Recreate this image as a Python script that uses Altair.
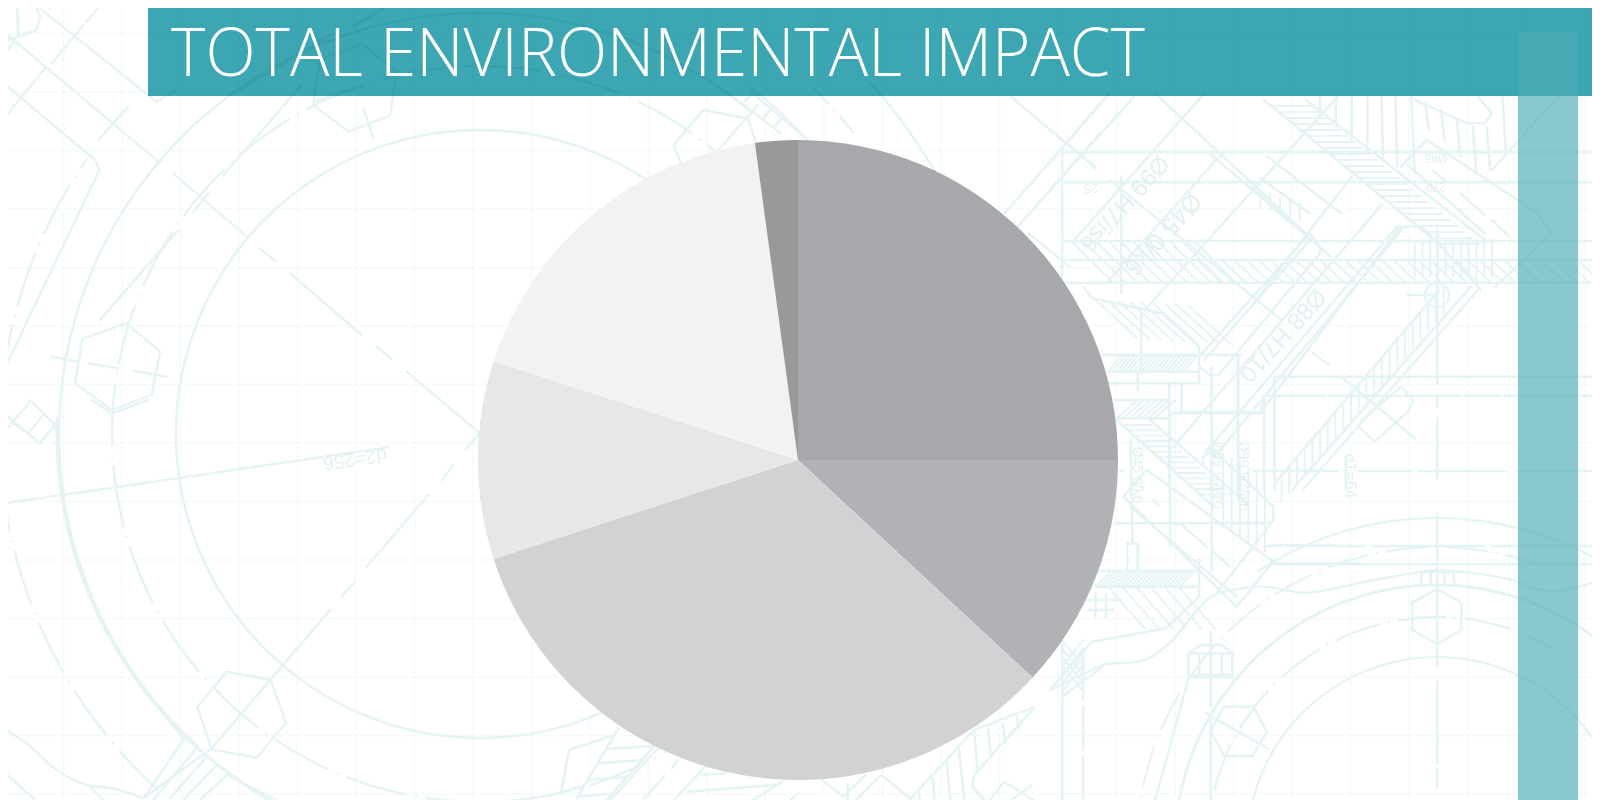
import math
import altair as alt
import pandas as pd

# ---- chart values -------------------------------------------------------
SLICE_VALUES = [25, 11.9, 33.1, 10, 17.85, 2.15]
SLICE_COLORS = ["#A7A8AB", "#B1B2B5", "#D1D2D4", "#E6E7E8", "#F2F2F2", "#999999"]
TITLE_TEXT = "TOTAL ENVIRONMENTAL IMPACT"

# ---- blueprint backdrop: page pixels, or crop pixels with a (ox, oy, sx, sy) origin --------
GRID_X = [5, 63.5, 122, 180.5, 239, 297.5, 356, 414.5, 473, 531.5, 590, 648.5, 707, 765.5, 824, 882.5, 941, 999.5,
          1058, 1116.5, 1175, 1233.5, 1292, 1350.5, 1409, 1467.5, 1526, 1584.5]
GRID_Y = [33.5, 92, 150.5, 209, 267.5, 326, 384.5, 443, 501.5, 560, 618.5, 677, 735.5, 794]
LINE = "#E5F3F4"

# centre x, centre y, radius, stroke, theta from, theta to (degrees), dash, gap (px; 0 = solid)
RINGS = [
    (480, 434, 304, 2.6, 0, 360, 0, 0),
    (480, 434, 368, 2.4, 0, 360, 62, 9),
    (480, 434, 421, 2.6, 222, 400, 0, 0),
    (482, 432, 425, 3.4, 205, 272, 0, 0),
    (480, 434, 440, 2.4, 38, 52, 0, 0),
    (480, 434, 480, 2.4, 222, 305, 56, 9),
    (480, 434, 480, 2.4, 44, 52, 22, 7),
    (480, 434, 525, 2.4, 48, 62, 0, 0),
    (1437, 847, 190, 2.2, -90, 90, 0, 0),
    (1437, 847, 230, 2.4, -92, 30, 48, 8),
    (1437, 847, 262, 3.0, -92, 90, 0, 0),
    (1437, 847, 275, 2.2, -3, 3, 0, 0),
    (1437, 847, 300, 2.2, -90, 25, 42, 8),
    (1437, 847, 329, 2.2, -33, 33, 0, 0),
    (1437, 295, 12, 2.2, 0, 360, 0, 0),
]

Z2 = (0, 0, 3, 3)
Z3 = (0, 400, 3, 3)
Z4 = (1050, 90, 2.851, 3)
Z5 = (1050, 440, 2.851, 3)
Z6 = (480, 650, 2.529, 3)
Z7 = (560, 90, 2.904, 3)
Z8 = (1080, 300, 3, 3)

LEFT_LINES = [(Z2, [
    [(120, 25), (450, 290), (470, 305), (530, 270)], [(0, 85), (475, 485)],
    [(0, 240), (285, 480), (298, 510), (0, 1135)], [(520, 520), (740, 710)],
    [(385, 320), (295, 420)], [(905, 255), (670, 525)], [(535, 690), (300, 960)], [(625, 580), (580, 635)],
    [(940, 315), (1045, 395), (1170, 347), (1190, 215), (1085, 130), (960, 180), (940, 315)],
    [(380, 970), (480, 1055), (455, 1185), (335, 1230), (225, 1150), (248, 1015), (380, 970)],
    [(0, 130), (110, 90), (120, 50), (100, 0)], [(50, 0), (55, 105)], [(0, 60), (0, 110), (45, 120), (0, 180)],
    [(120, 0), (150, 25), (190, 0)],
    [(305, 10), (260, 65)], [(250, 75), (155, 190)], [(135, 205), (0, 370)],
    [(780, 745), (825, 783)], [(870, 820), (1085, 1005)], [(1130, 1040), (1175, 1078)], [(1220, 1115), (1440, 1300)],
    [(155, 1070), (235, 1085)], [(265, 1090), (355, 1105)], [(400, 1112), (500, 1130)],
    [(1090, 325), (1120, 415)], [(945, 305), (1040, 270)], [(1060, 80), (1190, 0)], [(720, 270), (1000, 100)],
]), (Z3, [
    [(15, 310), (1165, 142)],
    [(0, 30), (120, 130), (165, 75), (90, 0)], [(0, 110), (90, 5)], [(40, 70), (85, 100), (130, 45)],
    [(275, 0), (335, 40), (445, 0)],
    [(1435, 105), (1395, 150)], [(1360, 195), (1325, 240)], [(1285, 285), (1100, 500)], [(1065, 545), (1025, 590)],
    [(990, 630), (635, 1045), (430, 1195)],
    [(680, 815), (812, 840), (858, 968), (770, 1073), (635, 1048), (592, 920), (680, 815)],
    [(0, 1105), (105, 1200)], [(265, 1155), (310, 1200)],
    [(550, 1020), (430, 1195)], [(480, 930), (555, 1020)], [(590, 1045), (460, 1200)], [(620, 1070), (510, 1195)],
    [(650, 1095), (550, 1200)], [(680, 1125), (600, 1200)], [(680, 1125), (830, 1200)],
]), (Z7, [
    [(330, 165), (415, 60), (545, 85), (570, 160)], [(330, 165), (350, 215)], [(460, 180), (575, 45)],
    [(620, 110), (650, 80)], [(590, 85), (620, 50)], [(530, 40), (560, 10)], [(490, 10), (640, 130)], [(560, 10), (720, 150)],
])]

RIGHT_LINES = [(Z7, [
    [(1310, 20), (1470, 160)], [(1470, 160), (1568, 40)], [(1330, 410), (1568, 130)], [(1290, 370), (1470, 160)],
    [(1510, 195), (1555, 235)], [(1360, 430), (1480, 530)],
]), (Z4, [
    [(35, 187), (1568, 187)], [(35, 277), (1568, 277)], [(35, 453), (1568, 453)], [(35, 510), (1568, 510)],
    [(35, 578), (1568, 578)], [(35, 187), (35, 578)], [(203, 260), (203, 610)],
    [(0, 215), (170, 10)], [(0, 300), (240, 20)], [(70, 450), (440, 10)], [(160, 580), (490, 190)], [(270, 660), (820, 20)],
    [(360, 1060), (945, 345)], [(440, 1090), (990, 410)], [(470, 1100), (1010, 410)],
    [(425, 800), (740, 430), (770, 470), (770, 490), (480, 855), (455, 855), (425, 830)], [(440, 810), (745, 445)],
    [(570, 290), (730, 430)], [(600, 265), (740, 370)], [(580, 640), (860, 260)], [(620, 200), (830, 370)],
    [(605, 960), (1000, 410)], [(640, 1180), (1110, 600)], [(690, 1200), (1200, 590)], [(720, 1200), (1220, 600)],
    [(750, 790), (795, 825)], [(830, 860), (1040, 1045)],
    [(890, 990), (1000, 890), (1035, 930), (1020, 965), (925, 1055), (880, 1010), (890, 990)],
    [(300, 10), (730, 430)], [(0, 120), (130, 230)], [(170, 270), (660, 690)], [(460, 195), (800, 500)],
    [(730, 30), (1240, 450)], [(610, 30), (1130, 480)],
    [(1040, 30), (1190, 100), (1240, 100), (1260, 70), (1220, 20)],
    [(770, 20), (770, 78)], [(815, 20), (815, 115)], [(860, 20), (860, 150)], [(905, 20), (905, 190)],
    [(945, 20), (950, 210)], [(985, 20), (990, 230)], [(1030, 20), (1040, 250)], [(1070, 40), (1080, 120)],
    [(1115, 60), (1125, 150)], [(1160, 90), (1170, 200)], [(1205, 110), (1215, 240)], [(1245, 110), (1255, 240)],
    [(1290, 20), (1300, 190)],
    [(1075, 150), (1390, 370), (1430, 430), (1270, 590)], [(1000, 230), (1075, 150)], [(1020, 225), (1240, 430)],
    [(1090, 240), (1130, 275)], [(1170, 310), (1240, 375)], [(1260, 390), (1310, 440)], [(1260, 240), (1450, 20)],
    [(990, 410), (1060, 410), (1230, 600)], [(1020, 615), (1100, 615)],
    [(95, 590), (120, 625), (320, 670), (425, 770), (425, 880)],
    [(150, 795), (545, 795)], [(165, 845), (425, 845)], [(160, 880), (420, 880)], [(250, 850), (250, 900)],
    [(185, 930), (340, 930)], [(185, 985), (340, 985)], [(340, 880), (340, 1200)],
    [(460, 830), (460, 1200)], [(535, 800), (535, 1200)], [(640, 860), (640, 1200)], [(610, 920), (610, 1200)],
    [(1563, 860), (1563, 1200)], [(260, 670), (260, 850)], [(1104, 420), (1104, 880)], [(1104, 920), (1104, 950)],
    [(1104, 985), (1104, 1165)], [(843, 1100), (843, 1200)], [(640, 860), (1568, 860)],
    [(375, 965), (600, 965), (610, 920)], [(375, 880), (375, 965)],
    [(610, 917), (785, 917)], [(795, 917), (1000, 917)], [(1010, 917), (1170, 917)], [(1180, 917), (1285, 917)],
    [(1295, 917), (1568, 917)], [(200, 1143), (210, 1143)], [(580, 1143), (820, 1143)], [(880, 1143), (1030, 1143)],
    [(1050, 1143), (1300, 1143)], [(1330, 1143), (1568, 1143)],
]), (Z8, [
    [(110, 360), (390, 610)], [(210, 360), (500, 610)],
    [(370, 470), (400, 450), (580, 620), (580, 660), (410, 880)], [(370, 470), (370, 500)],
    [(270, 340), (550, 340), (550, 290)], [(270, 340), (270, 740)], [(305, 250), (305, 340)],
    [(395, 220), (395, 810)], [(475, 165), (475, 600)],
    [(130, 590), (200, 510), (580, 785), (470, 920), (130, 590)], [(150, 620), (470, 890)],
    [(220, 600), (235, 615)], [(300, 670), (380, 740)], [(400, 755), (450, 800)],
    [(585, 790), (840, 790)], [(585, 735), (770, 735)],
]), (Z5, [
    [(1104, 447), (1173, 488), (1173, 570), (1104, 612), (1033, 570), (1033, 488), (1104, 447)],
    [(495, 800), (580, 800), (618, 875), (578, 948), (497, 948), (458, 875), (495, 800)],
    [(445, 820), (620, 925)], [(1104, 222), (1104, 680)], [(1104, 725), (1104, 970)], [(1104, 985), (1104, 1045)],
    [(458, 575), (458, 800)], [(458, 835), (458, 1080)],
    [(395, 640), (520, 640), (520, 705), (395, 705), (395, 640)], [(395, 640), (430, 615), (490, 615), (520, 640)],
    [(425, 640), (425, 705)], [(490, 640), (490, 705)], [(395, 712), (520, 712)], [(395, 715), (300, 1080)],
    [(640, 373), (1563, 373)], [(610, 318), (660, 318)], [(675, 318), (900, 318)], [(920, 318), (1240, 318)],
    [(1260, 318), (1568, 318)], [(1563, 0), (1563, 373)],
    [(1060, 395), (1058, 430)], [(1085, 395), (1085, 430)], [(1125, 395), (1125, 430)], [(1150, 395), (1153, 430)],
    [(35, 600), (35, 1080)], [(95, 640), (95, 780)], [(95, 800), (95, 930)], [(95, 950), (95, 1080)],
    [(130, 393), (425, 393)], [(130, 440), (425, 440)], [(120, 605), (330, 565), (425, 470), (425, 360)],
    [(0, 750), (120, 605)], [(35, 770), (150, 680)], [(130, 460), (130, 530)], [(160, 460), (160, 530)],
    [(100, 480), (200, 480)], [(110, 510), (180, 510)], [(220, 310), (250, 310), (250, 390)], [(220, 310), (220, 390)],
    [(230, 0), (235, 310)], [(185, 250), (630, 250)],
]), (Z6, [
    [(225, 300), (205, 430), (265, 405)], [(225, 300), (340, 255)], [(350, 235), (245, 445)],
    [(450, 295), (330, 450)], [(440, 290), (320, 450)],
    [(320, 297), (435, 288)], [(300, 340), (412, 330)], [(275, 390), (375, 380)], [(250, 440), (345, 430)],
    [(570, 350), (490, 450)], [(525, 425), (745, 405)], [(560, 375), (620, 370)], [(765, 395), (690, 450)],
    [(500, 330), (485, 355)], [(465, 380), (415, 445)], [(805, 430), (785, 450)],
    [(865, 390), (920, 440)], [(975, 375), (920, 440)], [(1015, 375), (950, 450)], [(1015, 375), (1090, 448)],
    [(930, 405), (930, 450)], [(1245, 245), (1090, 445)], [(1400, 175), (1250, 375), (1245, 410), (1275, 450)],
    [(1245, 242), (1400, 172)], [(1250, 245), (1258, 365)], [(1285, 235), (1292, 320)], [(1322, 220), (1328, 280)],
    [(1358, 200), (1362, 235)], [(1210, 285), (1225, 450)], [(1180, 335), (1190, 450)], [(1145, 385), (1150, 450)],
    [(1110, 430), (1112, 450)], [(1290, 450), (1325, 395), (1345, 410), (1400, 450)], [(1345, 450), (1395, 405)],
])]

WAVES = [(Z3, [[(0, 980), (80, 1030), (170, 1110), (260, 1155), (340, 1165), (430, 1195)]]),
         (Z5, [[(0, 750), (100, 700), (150, 675), (270, 660), (340, 610), (420, 510), (460, 470), (600, 440), (730, 458),
                (900, 425), (1060, 395), (1100, 390), (1300, 415), (1430, 455), (1568, 420)]])]

# origin, x0, y0, x1, y1, step x, step y, count
HATCHES = [
    (Z4, 60, 453, 180, 578, 35, 0, 11),
    (Z4, 420, 510, 488, 578, 35, 0, 33),
    (Z4, 630, 48, 745, 48, 20.8, 18, 24),
    (Z4, 600, 300, 600, 350, 28, 10, 5),
    (Z4, 660, 1155, 660, 1235, 22, -27, 22),
    (Z4, 1040, 450, 1040, 560, 22, 0, 11),
    (Z4, 130, 630, 250, 745, 33, 2, 9),
    (Z4, 165, 845, 205, 795, 12, 0, 19),
    (Z4, 190, 985, 250, 930, 18, 0, 7),
    (Z8, 120, 375, 215, 375, 18, 16, 14),
    (Z8, 430, 460, 430, 680, 25, 15, 6),
    (Z5, 130, 440, 175, 393, 12, 0, 21),
    (Z5, 170, 445, 270, 565, 40, 0, 6),
    (Z5, 35, 600, 95, 680, 0, 25, 4),
    (Z5, 35, 680, 95, 600, 0, 25, 4),
]

LABELS = [
    ("d2=256", 355, 459, 172, 19),
    ("Ø99 H7/is6", 1124, 203, 132, 24),
    ("Ø45 0/k6", 1163, 234, 132, 25),
    ("Ø88 H7/10", 1282, 335, 132, 24),
    ("25", 1091, 188, 180, 12),
    ("270", 1436, 187, 180, 12),
    ("Ø85", 1436, 158, 180, 12),
    ("d1=64", 1350, 476, 90, 16),
    ("Ø45 0/k6", 1137, 475, 90, 14),
    ("Ø95 H7/10", 1217, 475, 90, 14),
    ("Ø99 H7/is6", 1243, 476, 90, 14),
]

BAND = dict(x=148, x2=1600, y=0, y2=96, c="#3CA7B2")
BAR = dict(x=1518, x2=1578, y=32, y2=800, c="#4BABB5")
PIE_X, PIE_Y, PIE_R = 798, 460, 320
TITLE_X, TITLE_Y = 171, 76


def to_page(origin, pt):
    ox, oy, sx, sy = origin
    return ox + pt[0] / sx, oy + pt[1] / sy


rows = []
def add_line(pts, sw, kind):
    i = len({r["id"] for r in rows})
    for k, (x, y) in enumerate(pts):
        rows.append(dict(id=i, ord=k, x=x, y=y, sw=sw, kind=kind))


for origin, lines in LEFT_LINES:
    for pts in lines:
        add_line([to_page(origin, p) for p in pts], 2.4, "straight")
for origin, lines in RIGHT_LINES:
    for pts in lines:
        add_line([to_page(origin, p) for p in pts], 2.5, "straight")
for origin, lines in WAVES:
    for pts in lines:
        add_line([to_page(origin, p) for p in pts], 2.4, "wave")
for origin, x0, y0, x1, y1, dx, dy, n in HATCHES:
    for j in range(n):
        add_line([to_page(origin, (x0 + j * dx, y0 + j * dy)), to_page(origin, (x1 + j * dx, y1 + j * dy))], 1.9, "straight")
lines_df = pd.DataFrame(rows)

arc_rows = []
for cx, cy, r, sw, a0, a1, dash, gap in RINGS:
    if dash == 0:
        segs = [(a0, a1)]
    else:
        segs, a = [], a0
        d_deg, g_deg = math.degrees(dash / r), math.degrees(gap / r)
        while a < a1:
            segs.append((a, min(a + d_deg, a1)))
            segs.append((min(a + d_deg + g_deg, a1), min(a + d_deg + g_deg + math.degrees(2.0 / r), a1)))
            a += d_deg + 2 * g_deg + math.degrees(2.0 / r)
    for s0, s1 in segs:
        arc_rows.append(dict(cx=cx, cy=cy, r0=r - sw / 2, r1=r + sw / 2, t0=math.radians(s0), t1=math.radians(s1)))
arcs_df = pd.DataFrame(arc_rows)

xs = alt.Scale(domain=[8, 1592], range=[0, 1584], zero=False, nice=False)
ys = alt.Scale(domain=[8, 800], range=[0, 792], zero=False, nice=False)
X = lambda f: alt.X(f, type="quantitative", scale=xs, axis=None)
Y = lambda f: alt.Y(f, type="quantitative", scale=ys, axis=None)
T = lambda f: alt.Theta(f, type="quantitative", scale=None, stack=None)

grid_v = alt.Chart(pd.DataFrame({"x": GRID_X})).mark_rule(stroke="#F4FAFA", strokeWidth=1.5).encode(x=X("x"))
grid_h = alt.Chart(pd.DataFrame({"y": GRID_Y})).mark_rule(stroke="#F4FAFA", strokeWidth=1.5).encode(y=Y("y"))

rings = alt.Chart(arcs_df).mark_arc(fill=LINE).encode(
    x=X("cx"), y=Y("cy"),
    radius=alt.Radius("r1", type="quantitative", scale=None),
    radius2=alt.Radius2("r0"),
    theta=T("t0"), theta2=alt.Theta2("t1"),
)


def line_layer(kind, **mark):
    return alt.Chart(lines_df[lines_df.kind == kind]).mark_line(stroke=LINE, strokeCap="round", strokeJoin="round", **mark).encode(
        x=X("x"), y=Y("y"), detail="id:N", order="ord:Q",
        strokeWidth=alt.StrokeWidth("sw", type="quantitative", scale=None),
    )


straight = line_layer("straight")
waves = line_layer("wave", interpolate="catmull-rom")

texts = alt.Chart(pd.DataFrame(LABELS, columns=["t", "x", "y", "a", "s"])).mark_text(
    font="Liberation Sans Narrow, Liberation Sans", color="#E2F0F1", align="center", baseline="middle"
).encode(
    x=X("x"), y=Y("y"), text="t:N",
    angle=alt.Angle("a", type="quantitative", scale=None),
    size=alt.Size("s", type="quantitative", scale=None),
)

def block(d, **mark):
    return alt.Chart(pd.DataFrame([d])).mark_rect(color=d["c"], **mark).encode(x=X("x"), x2="x2", y=Y("y"), y2="y2")

band = block(BAND, blend="multiply")
bar = block(BAR, opacity=0.65)

pie_df = pd.DataFrame({"v": SLICE_VALUES, "c": SLICE_COLORS, "ord": range(len(SLICE_VALUES))})
pie = alt.Chart(pie_df).transform_window(c1="sum(v)", sort=[alt.SortField("ord")]).transform_calculate(
    t1="datum.c1 * 2 * PI / 100", t0="(datum.c1 - datum.v) * 2 * PI / 100"
).mark_arc(radius=PIE_R).encode(
    x=alt.value(PIE_X - 8), y=alt.value(PIE_Y - 8),
    theta=T("t0:Q"), theta2=alt.Theta2("t1:Q"),
    fill=alt.Fill("c:N", scale=None),
)

title = alt.Chart(pd.DataFrame({"t": [TITLE_TEXT], "x": [TITLE_X], "y": [TITLE_Y]})).mark_text(
    font="Open Sans", fontWeight=300, fontSize=65.6, color="#FFFFFF", align="left", baseline="alphabetic"
).encode(x=X("x"), y=Y("y"), text="t:N")

chart = alt.layer(grid_v, grid_h, rings, straight, waves, texts, band, bar, pie, title).properties(
    width=1584, height=792, padding=0, autosize=alt.AutoSizeParams(type="none"), background="#FFFFFF"
).configure_view(stroke=None)

chart.save("out.html", embed_options={"renderer": "svg", "actions": False})
